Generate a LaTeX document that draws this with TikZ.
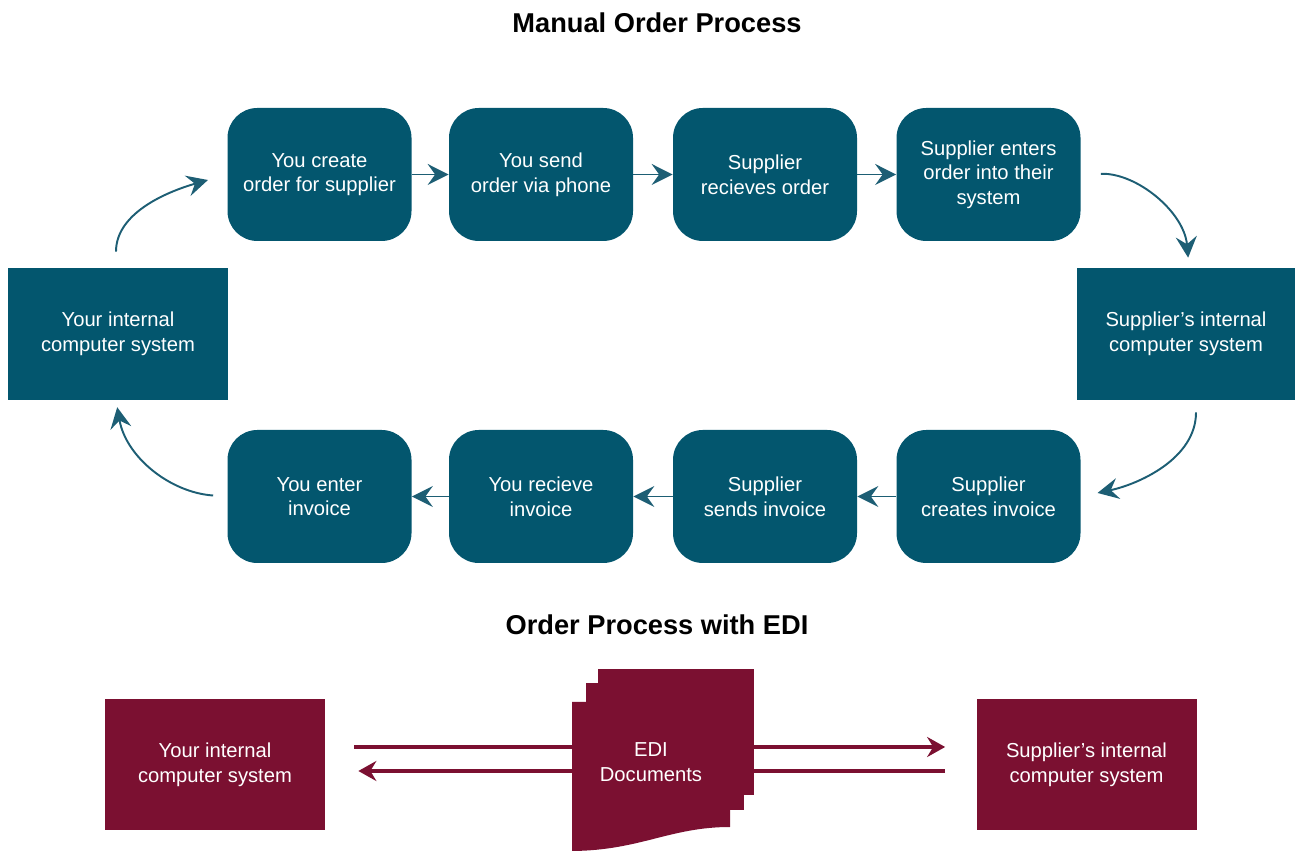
\documentclass[tikz,border=0pt]{standalone}
\usepackage{fontspec}
\setmainfont{Liberation Sans}
\usetikzlibrary{arrows.meta,positioning,calc}

\definecolor{tealbox}{HTML}{03566E}
\definecolor{tealline}{HTML}{1D5E74}
\definecolor{edired}{HTML}{7B1031}

\begin{document}
\begin{tikzpicture}[
    procnode/.style={
        fill=tealbox,
        rounded corners=17pt,
        minimum width=3.68cm,
        minimum height=2.66cm,
        text=white,
        font=\fontsize{11.5}{14}\selectfont,
        align=center
    },
    sysnode/.style={
        fill=tealbox,
        minimum width=4.4cm,
        minimum height=2.64cm,
        text=white,
        font=\fontsize{11.5}{14}\selectfont,
        align=center
    },
    edinode/.style={
        sysnode,
        fill=edired,
        minimum height=2.62cm
    },
    flowarrow/.style={
        -{Stealth[length=4.2mm, width=4.2mm, inset=1.5mm]},
        line width=1.1pt,
        draw=tealline
    },
    ediarrow/.style={
        -{Stealth[length=3.6mm, width=4mm, inset=1.2mm]},
        line width=1.8pt,
        draw=edired
    },
    titlenode/.style={font=\fontsize{15.5}{18}\selectfont\bfseries}
]
    \useasboundingbox (0,0) rectangle (25.9,17.04);

    % Titles
    \node[titlenode] (manualtitle) at (13.14, 16.58) {Manual Order Process};
    \node[titlenode] (editle) at (13.14, 4.54) {Order Process with EDI};

    % Manual process, top row
    \node[procnode] (create) at (6.39, 13.55) {You create\\order for supplier};
    \node[procnode] (send) at (10.82, 13.55) {You send\\order via phone};
    \node[procnode] (receive) at (15.30, 13.55) {Supplier\\recieves order};
    \node[procnode] (enter) at (19.77, 13.55) {Supplier enters\\order into their\\system};

    % Manual process, bottom row
    \node[procnode] (youenter) at (6.39, 7.11) {You enter\\invoice};
    \node[procnode] (youreceive) at (10.82, 7.11) {You recieve\\invoice};
    \node[procnode] (sendinv) at (15.30, 7.11) {Supplier\\sends invoice};
    \node[procnode] (createinv) at (19.77, 7.11) {Supplier\\creates invoice};

    % Computer systems
    \node[sysnode] (yoursys) at (2.36, 10.36) {Your internal\\computer system};
    \node[sysnode, minimum width=4.36cm] (suppsys) at (23.72, 10.36) {Supplier’s internal\\computer system};

    % Straight arrows
    \draw[flowarrow] (create) -- (send);
    \draw[flowarrow] (send) -- (receive);
    \draw[flowarrow] (receive) -- (enter);
    \draw[flowarrow] (createinv) -- (sendinv);
    \draw[flowarrow] (sendinv) -- (youreceive);
    \draw[flowarrow] (youreceive) -- (youenter);

    % Curved arrows
    \draw[flowarrow, shorten <=0.32cm, shorten >=0.4cm]
        ([xshift=-0.04cm]yoursys.north) to[out=90, in=196] (create.west);
    \draw[flowarrow, shorten <=0.4cm, shorten >=0.2cm]
        (enter.east) to[out=2, in=95] ([xshift=0.06cm]suppsys.north);
    \draw[flowarrow, shorten <=0.24cm, shorten >=0.34cm]
        ([xshift=0.2cm]suppsys.south) to[out=-90, in=12] (createinv.east);
    \draw[flowarrow, shorten <=0.28cm, shorten >=0.14cm]
        (youenter.west) to[out=176, in=-80] ([xshift=-0.04cm]yoursys.south);

    % Order process with EDI
    \node[edinode] (ediyou) at (4.30, 1.75) {Your internal\\computer system};
    \node[edinode] (edisupp) at (21.73, 1.75) {Supplier’s internal\\computer system};

    \draw[ediarrow, shorten <=0.58cm, shorten >=0.62cm]
        ([yshift=0.35cm]ediyou.east) -- ([yshift=0.35cm]edisupp.west);
    \draw[ediarrow, shorten <=0.62cm, shorten >=0.66cm]
        ([yshift=-0.13cm]edisupp.west) -- ([yshift=-0.13cm]ediyou.east);

    % EDI document stack
    \fill[edired] (11.96, 1.14) rectangle (15.08, 3.66);
    \fill[edired] (11.72, 0.84) rectangle (14.88, 3.38);
    \fill[edired] (11.44, 0.02) -- (11.44, 3.00) -- (14.60, 3.00) -- (14.60, 0.50)
        .. controls (13.40, 0.50) and (12.80, 0.03) .. cycle;
    \node[text=white, font=\fontsize{11.5}{14}\selectfont, align=center] (edidoc) at (13.02, 1.80) {EDI\\Documents};
\end{tikzpicture}
\end{document}
